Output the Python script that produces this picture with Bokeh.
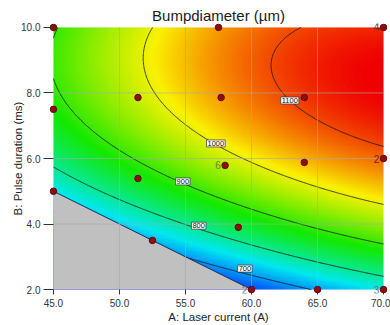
import numpy as np
import contourpy
from bokeh.plotting import figure
from bokeh.models import (LinearColorMapper, FixedTicker, PrintfTickFormatter,
                          ColumnDataSource, LabelSet)
from bokeh.embed import file_html
from bokeh.resources import INLINE
from bokeh.core.properties import value, field

FONT = "Liberation Sans"

# ---------------- chart data ----------------
title_text = "Bumpdiameter (µm)"
x_title = "A: Laser current (A)"
y_title = "B: Pulse duration (ms)"
x_ticks = [45, 50, 55, 60, 65, 70]
y_ticks = [2, 4, 6, 8, 10]
levels = [700, 800, 900, 1000, 1100]

# contour traces (A, B) for each level
c700_A = [54.9, 59.5, 62.2, 63.0]
c700_B = [3.03, 2.64, 2.37, 2.0]
c800_A = [45.0, 56.0, 61.4, 70.0]
c800_B = [6.03, 3.95, 3.13, 2.49]
c900_A = [45.0, 45.9, 54.8, 60.5, 64.7, 70.0]
c900_B = [8.6, 7.77, 5.3, 4.4, 3.8, 3.4]
c1000_A = [52.35, 51.7, 52.9, 57.3, 70.0]
c1000_B = [10.0, 9.0, 7.47, 6.46, 4.53]
c1100_A = [63.9, 62.4, 61.6, 62.9, 65.6, 70.0]
c1100_B = [10.0, 9.36, 8.7, 7.77, 6.85, 6.49]

# response values estimated from the colours near the lower edge
est_A = [45.0, 50.0, 52.5, 60.0, 65.0, 70.0]
est_B = [5.0, 4.0, 3.5, 2.0, 2.0, 2.0]
est_Z = [765, 745, 722, 650, 715, 755]

# contour label positions
lab_A = [59.5, 56.0, 54.8, 57.3, 62.9]
lab_B = [2.64, 3.95, 5.3, 6.46, 7.77]
lab_txt = ["700", "800", "900", "1000", "1100"]

# design points
pt_A = [45, 57.5, 70, 45, 51.4, 57.7, 64.0, 70, 64.0, 58.0, 51.4, 45, 52.5, 59.0, 60, 65, 70]
pt_B = [10, 10, 10, 7.5, 7.86, 7.86, 7.86, 6.0, 5.88, 5.79, 5.39, 5.0, 3.5, 3.9, 2, 2, 2]

# replicate counts next to points
cnt_A = [45, 70, 70, 58.0, 45, 60, 70]
cnt_B = [10, 10, 6.0, 5.79, 5.0, 2, 2]
cnt_txt = ["4", "4", "2", "6", "4", "2", "3"]
cnt_col = ["#5a2a2a", "#5a2a2a", "#7a2020", "#5f8a1a", "#5a2a2a", "#707070", "#707070"]

# constraint boundary of the design space
bound_A = [45, 60]
bound_B = [5, 2]

x_lo, x_hi = 45, 70
y_lo, y_hi = 2, 10

# colour scale limits of the response
color_low, color_high = 620, 1140

# ---------------- surface fitted to the read values ----------------
def feats(A, B):
    a = (np.asarray(A, float) - 57.5) / 12.5
    b = (np.asarray(B, float) - 6.0) / 4.0
    return np.stack([np.ones_like(a), a, b, a * b, a * a, b * b,
                     a ** 3, a * a * b, a * b * b, b ** 3], axis=-1)

tr_A = c700_A + c800_A + c900_A + c1000_A + c1100_A + est_A
tr_B = c700_B + c800_B + c900_B + c1000_B + c1100_B + est_B
tr_Z = ([levels[0]] * len(c700_A) + [levels[1]] * len(c800_A) + [levels[2]] * len(c900_A)
        + [levels[3]] * len(c1000_A) + [levels[4]] * len(c1100_A) + est_Z)
M = feats(tr_A, tr_B)
ridge = np.zeros((4, M.shape[1]))
for k in range(4):
    ridge[k, 6 + k] = 0.6
M = np.vstack([M, ridge])
rhs = np.concatenate([np.array(tr_Z, float), np.zeros(4)])
coef, *_ = np.linalg.lstsq(M, rhs, rcond=None)

nx, ny = 300, 200
Ac = x_lo + (np.arange(nx) + 0.5) * (x_hi - x_lo) / nx
Bc = y_lo + (np.arange(ny) + 0.5) * (y_hi - y_lo) / ny
AA, BB = np.meshgrid(Ac, Bc)
Z = feats(AA, BB) @ coef

# rainbow palette blue-cyan-green-yellow-red
stops = [0.0, 0.25, 0.5, 0.75, 1.0]
scols = np.array([(0, 30, 255), (0, 232, 240), (20, 232, 0), (250, 242, 0), (240, 0, 0)], float)
pal = []
for t in np.linspace(0, 1, 256):
    r = np.interp(t, stops, scols[:, 0]); g = np.interp(t, stops, scols[:, 1]); b = np.interp(t, stops, scols[:, 2])
    pal.append("#%02x%02x%02x" % (int(r), int(g), int(b)))
mapper = LinearColorMapper(palette=pal, low=color_low, high=color_high)

# ---------------- figure ----------------
padx, pady = 0.3, 0.12   # small white margin so edge points are not clipped
p = figure(width=390, height=325, x_range=(x_lo - padx, x_hi + padx),
           y_range=(y_lo - pady, y_hi + pady),
           output_backend="svg", toolbar_location=None,
           min_border_left=49, min_border_right=3, min_border_top=23, min_border_bottom=32)
p.outline_line_color = None
p.xgrid.visible = False
p.ygrid.visible = False

p.title.text = title_text
p.title.align = "center"
p.title.text_font = FONT
p.title.text_font_size = "15px"
p.title.text_font_style = "normal"
p.title.text_color = "#1a1a1a"
p.title.standoff = 0

p.image(image=[Z], x=x_lo, y=y_lo, dw=x_hi - x_lo, dh=y_hi - y_lo, color_mapper=mapper)

# contour lines
Ae = np.linspace(x_lo, x_hi, 301)
Be = np.linspace(y_lo, y_hi, 201)
AAe, BBe = np.meshgrid(Ae, Be)
Ze = feats(AAe, BBe) @ coef
cg = contourpy.contour_generator(AAe, BBe, Ze)
xs, ys = [], []
for lv in levels:
    for seg in cg.lines(lv):
        xs.append(list(seg[:, 0])); ys.append(list(seg[:, 1]))
p.multi_line(xs, ys, line_color="#151515", line_width=0.8)

# infeasible region
p.patch([x_lo] + bound_A, [y_lo] + bound_B, fill_color="#c0c0c0", line_color=None)
p.line(bound_A, bound_B, line_color="#1c2a5a", line_width=1)

# grid lines over the surface
gx = x_ticks[1:-1]
gy = y_ticks[1:-1]
p.segment(x0=gx, y0=[y_lo] * len(gx), x1=gx, y1=[y_hi] * len(gx),
          line_color="#a8a8a8", line_alpha=0.6, line_width=1)
p.segment(x0=[x_lo] * len(gy), y0=gy, x1=[x_hi] * len(gy), y1=gy,
          line_color="#a8a8a8", line_alpha=0.6, line_width=1)

# contour labels
p.text(lab_A, lab_B, text=lab_txt, text_font=value(FONT), text_font_size="7.5px",
       text_align="center", text_baseline="middle", text_color="#111111",
       background_fill_color="white", border_line_color="#333333", border_line_width=0.7,
       padding=1)

# design points and counts
p.scatter(pt_A, pt_B, size=6.5, fill_color="#8b1010", line_color="#6a0505")
cnt_src = ColumnDataSource(dict(x=cnt_A, y=cnt_B, t=cnt_txt, c=cnt_col))
p.add_layout(LabelSet(x="x", y="y", text="t", source=cnt_src, x_offset=-7,
                      text_font=value(FONT), text_font_size="10px",
                      text_align="center", text_baseline="middle", text_color=field("c")))

# axes
p.xaxis.ticker = FixedTicker(ticks=x_ticks)
p.yaxis.ticker = FixedTicker(ticks=y_ticks)
for ax in (p.xaxis[0], p.yaxis[0]):
    ax.formatter = PrintfTickFormatter(format="%.1f")
    ax.axis_line_color = None
    ax.major_tick_line_color = "#333333"
    ax.minor_tick_line_color = None
    ax.major_tick_in = 4
    ax.major_label_text_font = FONT
    ax.major_label_text_font_size = "10px"
    ax.major_label_text_color = "#333333"
    ax.axis_label_text_font = FONT
    ax.axis_label_text_font_size = "11.5px"
    ax.axis_label_text_font_style = "normal"
    ax.axis_label_text_color = "#222222"
p.xaxis.axis_label = x_title
p.yaxis.axis_label = y_title
p.xaxis.major_tick_out = 1
p.yaxis.major_tick_out = 6
p.xaxis.major_label_standoff = 4
p.yaxis.major_label_standoff = 3
p.xaxis.axis_label_standoff = 1
p.yaxis.axis_label_standoff = -6

open("out.html", "w").write(file_html(p, INLINE))
